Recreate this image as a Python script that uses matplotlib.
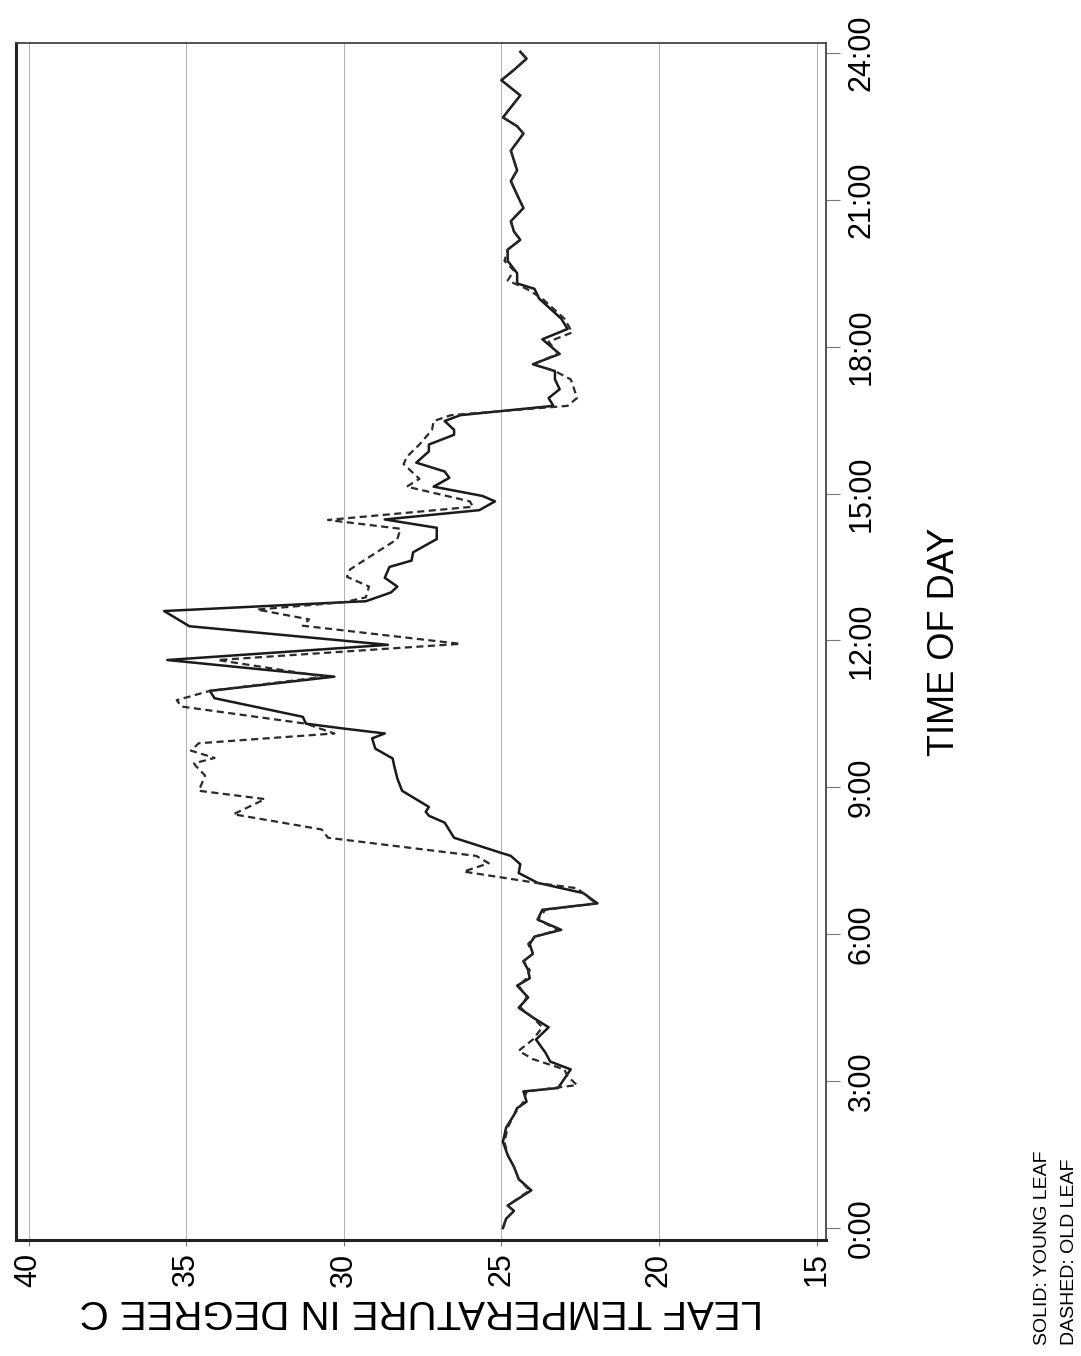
import matplotlib
matplotlib.use('Agg')
import matplotlib.pyplot as plt

plt.rcParams['font.family'] = ['Liberation Sans', 'DejaVu Sans']

# time of day in hours, leaf temperature in degree C
young_time = [0.00, 0.19, 0.35, 0.46, 0.77, 1.00, 1.25, 1.49, 1.76, 2.05, 2.31, 2.45, 2.58, 2.79,
              2.86, 3.24, 3.40, 3.58, 3.85, 4.10, 4.30, 4.50, 4.71, 4.95, 5.10, 5.27, 5.45, 5.60,
              5.80, 5.95, 6.09, 6.30, 6.50, 6.63, 6.84, 7.05, 7.25, 7.43, 7.60, 7.66, 7.97, 8.28,
              8.42, 8.50, 8.60, 8.93, 9.18, 9.44, 9.59, 9.79, 10.00, 10.10, 10.20, 10.30, 10.44,
              10.82, 10.97, 11.26, 11.60, 11.91, 12.29, 12.60, 12.78, 12.80, 12.98, 13.10, 13.28,
              13.50, 13.63, 13.80, 14.07, 14.30, 14.47, 14.66, 14.84, 14.95, 15.14, 15.32, 15.45,
              15.63, 15.86, 16.00, 16.20, 16.30, 16.48, 16.60, 16.79, 16.95, 17.13, 17.33, 17.50,
              17.64, 17.85, 18.15, 18.36, 18.57, 18.98, 19.18, 19.29, 19.50, 19.75, 19.98, 20.18,
              20.35, 20.56, 20.83, 21.10, 21.38, 21.60, 22.00, 22.35, 22.50, 22.68, 23.13, 23.44,
              23.65, 23.88, 24.02]
young_temp = [24.95, 24.85, 24.6, 24.8, 24.05, 24.45, 24.6, 24.8, 24.95, 24.85, 24.6, 24.5, 24.2, 24.3,
              23.2, 22.8, 23.45, 23.6, 23.9, 23.5, 24.0, 24.45, 24.15, 24.5, 24.1, 24.15, 24.3, 24.0,
              24.1, 23.95, 23.1, 23.85, 23.7, 21.95, 22.4, 23.85, 24.45, 24.4, 24.7, 25.0, 26.5, 26.8,
              27.3, 27.4, 27.3, 28.15, 28.3, 28.4, 28.45, 29.0, 29.1, 28.7, 30.0, 31.2, 31.3,
              34.1, 34.25, 30.3, 35.6, 28.6, 34.9, 35.7, 30.0, 29.3, 28.5, 28.3, 28.7,
              28.55, 27.85, 27.8, 27.05, 27.05, 28.7, 25.7, 25.2, 25.6, 27.15, 26.65, 26.8,
              27.7, 27.3, 27.3, 26.5, 26.5, 26.8, 26.3, 23.35, 23.5, 23.15, 23.3, 23.3,
              24.0, 23.15, 23.7, 22.9, 23.1, 23.8, 23.95, 24.5, 24.5, 24.8, 24.8, 24.4,
              24.6, 24.7, 24.3, 24.5, 24.7, 24.5, 24.7, 24.3, 24.5, 24.95, 24.4, 25.0,
              24.6, 24.2, 24.4]

old_time = [0.00, 0.19, 0.35, 0.46, 0.77, 1.00, 1.25, 1.49, 1.76, 2.05, 2.31, 2.58, 2.79, 2.92,
            3.10, 3.24, 3.45, 3.62, 3.85, 4.10, 4.30, 4.50, 4.71, 4.95, 5.10, 5.27, 5.45, 5.60,
            5.80, 5.95, 6.09, 6.30, 6.50, 6.63, 6.94, 7.05, 7.28, 7.45, 7.60, 7.97, 8.14, 8.45,
            8.76, 8.93, 9.24, 9.44, 9.49, 9.60, 9.75, 9.90, 10.10, 10.30, 10.65, 10.78, 10.97,
            11.26, 11.60, 11.93, 12.30, 12.43, 12.63, 12.78, 12.88, 13.10, 13.30, 13.45, 13.70,
            14.07, 14.28, 14.46, 14.73, 14.84, 15.14, 15.30, 15.60, 15.75, 16.00, 16.30, 16.48,
            16.60, 16.79, 16.95, 17.15, 17.33, 17.50, 17.64, 17.85, 18.10, 18.29, 18.57, 18.98,
            19.18, 19.35, 19.55, 19.75, 19.98, 20.18, 20.35, 20.56, 20.83, 21.10, 21.38, 21.60,
            22.00, 22.35, 22.50, 22.68, 23.13, 23.44, 23.65, 23.88, 24.02]
old_temp = [24.95, 24.85, 24.6, 24.8, 24.1, 24.45, 24.6, 24.8, 24.9, 24.8, 24.6, 24.3, 24.2, 22.6,
            22.9, 23.0, 24.0, 24.45, 24.0, 23.7, 24.0, 24.4, 24.2, 24.45, 24.2, 24.1, 24.3, 24.0,
            24.15, 23.95, 23.2, 23.85, 23.6, 22.0, 22.6, 23.9, 26.2, 25.4, 25.8, 30.5, 30.7, 33.5,
            32.5, 34.6, 34.4, 34.7, 34.75, 34.1, 34.85, 34.6, 30.3, 31.2, 35.15, 35.3, 34.25,
            30.6, 34.0, 26.3, 31.3, 31.1, 32.75, 30.0, 29.3, 29.2, 29.9, 29.8, 29.2,
            28.3, 28.2, 30.5, 25.9, 26.0, 28.0, 27.6, 28.1, 28.0, 27.6, 27.2, 27.15,
            26.6, 22.9, 22.6, 22.7, 22.8, 23.3, 24.0, 23.2, 23.5, 22.75, 23.0, 23.7,
            24.2, 24.8, 24.6, 24.9, 24.8, 24.4, 24.6, 24.7, 24.3, 24.5, 24.7, 24.5,
            24.7, 24.3, 24.5, 24.95, 24.4, 25.0, 24.6, 24.2, 24.4]

temp_ticks = [40, 35, 30, 25, 20, 15]
hour_ticks = [0, 3, 6, 9, 12, 15, 18, 21, 24]
hour_labels = ['%d:00' % h for h in hour_ticks]

fig = plt.figure(figsize=(10.81, 13.56), dpi=100)
# axes box: 16..826 px across, 43..1240 px down
ax = fig.add_axes([0.0148, 0.0855, 0.7493, 0.8828])

ax.plot(young_temp, young_time, color='#1a1a1a', lw=1.8)
ax.plot(old_temp, old_time, color='#2a2a2a', lw=1.6, linestyle=(0, (3.2, 2.0)))

ax.set_xlim(40.4, 14.7)
ax.set_ylim(-0.245, 24.2)

ax.set_xticks(temp_ticks)
ax.set_xticklabels([str(t) for t in temp_ticks], rotation=90, fontsize=22, va='top')
ax.set_yticks(hour_ticks)
ax.set_yticklabels(hour_labels, rotation=90, fontsize=22, va='center')
ax.yaxis.tick_right()
ax.tick_params(axis='y', length=10, width=0.8, color='#777', pad=5)
ax.tick_params(axis='x', length=4, width=0.8, color='#777', pad=5)
ax.grid(axis='x', color='#b0b0b0', lw=0.7)

for side in ['left', 'bottom']:
    ax.spines[side].set_linewidth(2.2)
    ax.spines[side].set_color('#222')
for side in ['top', 'right']:
    ax.spines[side].set_linewidth(1.3)
    ax.spines[side].set_color('#444')

ax.set_xlabel('LEAF TEMPERATURE IN DEGREE C', rotation=180, fontsize=29, labelpad=4)
ax.yaxis.set_label_position('right')
ax.set_ylabel('TIME OF DAY', rotation=90, fontsize=26, labelpad=36)

fig.text(0.964, 0.008, 'SOLID: YOUNG LEAF', rotation=90, fontsize=14, ha='center', va='bottom')
fig.text(0.989, 0.008, 'DASHED: OLD LEAF', rotation=90, fontsize=14, ha='center', va='bottom')

fig.savefig('out.png', dpi=100)
plt.close(fig)
